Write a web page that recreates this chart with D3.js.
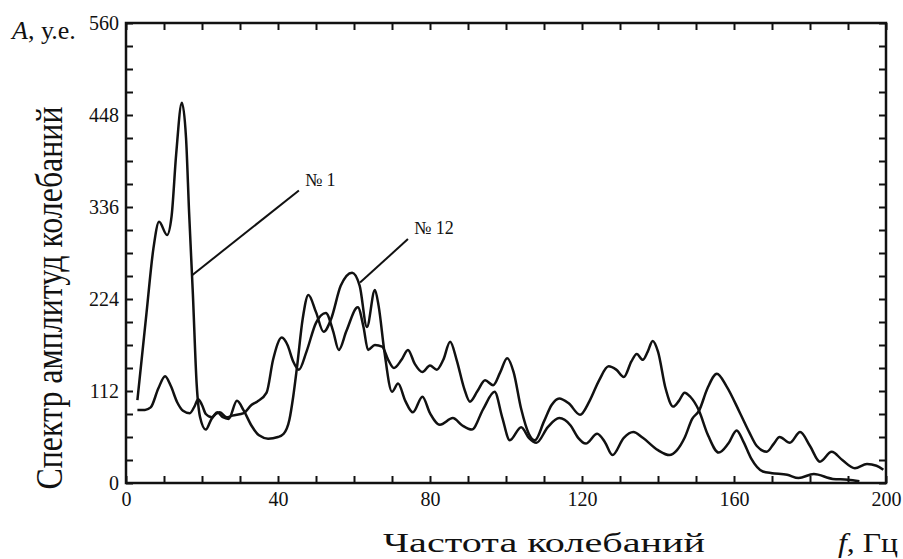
<!DOCTYPE html>
<html lang="ru">
<head>
  <meta charset="UTF-8">
  <title>Спектр амплитуд колебаний</title>
  <style>
    body { margin: 0; background: #ffffff; }
    svg { display: block; }
    text { font-family: 'Liberation Serif', 'Times New Roman', serif; fill: #111; }
  </style>
</head>
<body>
<svg width="903" height="559"></svg>
<script src="https://d3js.org/d3.v7.min.js"></script>
<script>
  const width = 903, height = 559;

  // Frequency (Hz) and amplitude (u.e.)
  const freq1 = [3, 5.4, 7.2, 8.7, 10.8, 12, 13.2, 14.7, 15.8, 16.6, 17.6, 18.6, 19.5, 21, 22.5, 24.7, 26.5, 28,
    31, 33, 34.5, 37, 38.7, 41, 42.5, 44, 45.5, 47.5, 50, 52.6, 54.5, 56, 58, 61, 62.5, 63.7, 65.5, 67.4, 69,
    70.5, 72.5, 74.2, 76, 78, 80, 81.8, 83.5, 85.3, 87, 89, 90.5, 92.5, 94.5, 96.6, 98.5, 100.3, 102, 104, 106,
    107.6, 110, 112, 114, 116.5, 119.5, 122, 124.5, 127, 129, 131, 133, 134.4, 136, 137.3, 138.6, 140, 142, 144,
    145.5, 147, 148.5, 150.8, 153, 156, 158.5, 160.7, 162.5, 164.5, 167.6, 170, 174, 177, 181, 186, 190, 193];
  const amp1 = [101, 207, 285, 318, 302, 325, 400, 463, 420, 330, 230, 120, 80, 65, 78, 86, 80, 82,
    85, 95, 99, 110, 150, 177, 168, 148, 138, 160, 195, 207, 185, 162, 185, 214, 190, 162, 168, 166, 150,
    140, 150, 162, 145, 135, 143, 138, 150, 172, 150, 115, 99, 112, 125, 119, 135, 152, 135, 90, 60,
    52, 75, 95, 103, 97, 83, 100, 125, 142, 138, 129, 148, 157, 150, 160, 173, 160, 115, 93,
    100, 110, 105, 88, 60, 37, 48, 64, 50, 30, 14, 12, 10, 6, 11, 5, 4, 2];

  const freq12 = [3, 5, 6.5, 8.5, 10.3, 11.8, 13.5, 15, 16.8, 18, 19, 20, 21, 22.6, 24, 25.5, 27, 29.2, 31, 33,
    35, 37.4, 40, 41.5, 43, 44, 45, 46.5, 48, 50, 52, 54, 56.5, 59.5, 61.5, 63.4, 65.5, 66.5, 68, 70, 71.6, 73.5,
    75.5, 78, 80, 82.6, 86, 88.5, 91, 94, 97, 99, 101, 104, 106, 108, 111, 114, 117, 119, 121, 124, 126, 128,
    131, 133.5, 136, 140, 143, 145, 147, 149, 150.8, 153, 155.5, 158, 161.6, 164, 166, 168.6, 170.5, 172, 174.7,
    177.4, 180, 182.6, 185.7, 188.5, 191.8, 195, 197.5, 199.3];
  const amp12 = [89, 89, 92, 115, 130, 118, 98, 88, 85, 93, 102, 95, 84, 80, 86, 80, 78, 100, 88, 70,
    58, 54, 56, 60, 77, 105, 141, 200, 229, 208, 184, 200, 240, 256, 240, 190, 235, 215, 160, 111, 121, 100,
    86, 105, 85, 71, 79, 70, 65, 90, 111, 80, 52, 68, 55, 49, 68, 79, 70, 55, 48, 60, 50, 34,
    55, 62, 55, 40, 34, 40, 55, 78, 88, 115, 133, 118, 85, 62, 45, 38, 48, 56, 49,
    62, 45, 26, 38, 28, 18, 23, 21, 16];

  const xTickLabels = [0, 40, 80, 120, 160, 200];
  const yTickLabels = [0, 112, 224, 336, 448, 560];
  const xTicks = d3.range(0, 201, 10);
  const yTicks = d3.range(0, 561, 28);

  // Callouts: [label, line start f, A, line end f, A]
  const callouts = [
    ["№ 1", 17.4, 253, 45.5, 356],
    ["№ 12", 61.6, 244, 74.2, 297]
  ];

  const x = d3.scaleLinear().domain([0, 200]).range([126, 886]);
  const y = d3.scaleLinear().domain([0, 560]).range([483, 23]);

  const svg = d3.select("svg");

  // tick marks (all pointing inward)
  const tick = 7;
  const fmtX = d => xTickLabels.includes(d) ? d : "";
  const fmtY = d => yTickLabels.includes(d) ? d : "";

  svg.append("g").attr("transform", `translate(0,${y(0)})`)
    .call(d3.axisBottom(x).tickValues(xTicks).tickSizeInner(-tick).tickSizeOuter(0).tickPadding(9).tickFormat(fmtX));
  svg.append("g").attr("transform", `translate(0,${y(560)})`)
    .call(d3.axisTop(x).tickValues(xTicks).tickSizeInner(-tick).tickSizeOuter(0).tickFormat(""));
  svg.append("g").attr("transform", `translate(${x(0)},0)`)
    .call(d3.axisLeft(y).tickValues(yTicks).tickSizeInner(-tick).tickSizeOuter(0).tickPadding(7).tickFormat(fmtY));
  svg.append("g").attr("transform", `translate(${x(200)},0)`)
    .call(d3.axisRight(y).tickValues(yTicks).tickSizeInner(-tick).tickSizeOuter(0).tickFormat(""));

  svg.selectAll(".domain").remove();
  svg.selectAll("g").attr("font-family", "Liberation Serif").attr("font-size", 20);
  svg.selectAll(".tick line").attr("stroke", "#111").attr("stroke-width", 2);
  svg.selectAll(".tick text").attr("fill", "#111");

  // frame
  svg.append("rect")
    .attr("x", x(0)).attr("y", y(560))
    .attr("width", x(200) - x(0)).attr("height", y(0) - y(560))
    .attr("fill", "none").attr("stroke", "#111").attr("stroke-width", 2.5);

  // curves
  const line = d3.line()
    .x(d => x(d[0]))
    .y(d => y(d[1]))
    .curve(d3.curveMonotoneX);

  [[freq1, amp1], [freq12, amp12]].forEach(([f, a]) => {
    svg.append("path")
      .datum(f.map((v, i) => [v, a[i]]))
      .attr("d", line)
      .attr("fill", "none")
      .attr("stroke", "#111")
      .attr("stroke-width", 2.5)
      .attr("stroke-linejoin", "round");
  });

  // callouts
  callouts.forEach(([label, f0, a0, f1, a1]) => {
    svg.append("line")
      .attr("x1", x(f0)).attr("y1", y(a0))
      .attr("x2", x(f1)).attr("y2", y(a1))
      .attr("stroke", "#111").attr("stroke-width", 2);
    svg.append("text")
      .attr("x", x(f1) + 6).attr("y", y(a1) - 5)
      .attr("font-size", 18)
      .text(label);
  });

  // axis titles
  const yt = svg.append("text")
    .attr("x", 12).attr("y", 39)
    .attr("font-size", 26);
  yt.append("tspan").attr("font-style", "italic").text("A");
  yt.append("tspan").text(", у.е.");

  svg.append("text")
    .attr("transform", "translate(62,298) rotate(-90)")
    .attr("text-anchor", "middle")
    .attr("font-size", 38)
    .attr("textLength", 383)
    .attr("lengthAdjust", "spacingAndGlyphs")
    .text("Спектр амплитуд колебаний");

  svg.append("text")
    .attr("x", 383).attr("y", 552)
    .attr("font-size", 27)
    .attr("textLength", 322)
    .attr("lengthAdjust", "spacingAndGlyphs")
    .text("Частота колебаний");

  const xt = svg.append("text")
    .attr("x", 838).attr("y", 552)
    .attr("font-size", 27)
    .attr("textLength", 60)
    .attr("lengthAdjust", "spacingAndGlyphs");
  xt.append("tspan").attr("font-style", "italic").text("f");
  xt.append("tspan").text(", Гц");
</script>
</body>
</html>
